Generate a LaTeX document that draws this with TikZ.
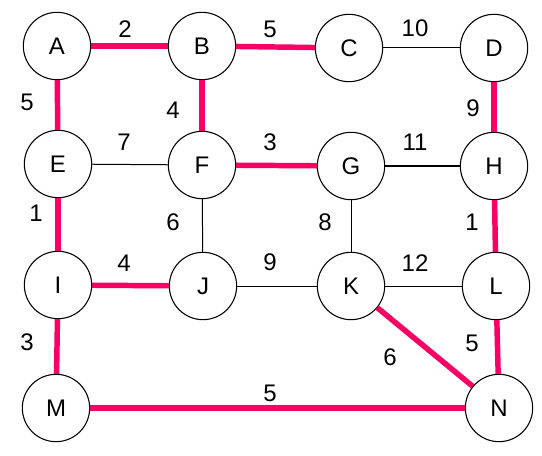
\documentclass[tikz,border=0pt]{standalone}
\usepackage{fontspec}
\setmainfont{Liberation Sans}
\definecolor{mstred}{RGB}{250,0,100}
\begin{document}
\begin{tikzpicture}[x=0.75pt,y=-0.75pt,
  vtx/.style={circle,draw=black,line width=0.8pt,minimum size=50.5pt,inner sep=0pt,font=\fontsize{18}{20}\selectfont},
  wlab/.style={font=\fontsize{18}{20}\selectfont},
  plain/.style={draw=black,line width=0.75pt},
  mst/.style={draw=mstred,line width=4.1pt}]
\useasboundingbox (0,0) rectangle (542,456);
\node[vtx] (A) at (57,46) {A};
\node[vtx] (B) at (202,46) {B};
\node[vtx] (C) at (349,48) {C};
\node[vtx] (D) at (494,48) {D};
\node[vtx] (E) at (58,164) {E};
\node[vtx] (F) at (202,165) {F};
\node[vtx] (G) at (351,166) {G};
\node[vtx] (H) at (494,166) {H};
\node[vtx] (I) at (58,285) {I};
\node[vtx] (J) at (203,286) {J};
\node[vtx] (K) at (351,286) {K};
\node[vtx] (L) at (496,286) {L};
\node[vtx] (M) at (56,408) {M};
\node[vtx] (N) at (499,408) {N};
% black underlay lines
\foreach \u/\v in {A/B,B/C,C/D,A/E,B/F,D/H,E/F,F/G,G/H,E/I,F/J,G/K,H/L,I/J,J/K,K/L,I/M,L/N,K/N,M/N}
  \draw[plain] (\u) -- (\v);
% MST edges
\foreach \u/\v in {A/B,B/C,A/E,B/F,D/H,F/G,E/I,H/L,I/J,I/M,L/N,K/N,M/N}
  \draw[mst] (\u) -- (\v);
% weights
\node[wlab] (w1) at (125,29) {2};
\node[wlab] (w2) at (270,29) {5};
\node[wlab] (w3) at (415,28) {10};
\node[wlab] (w4) at (27,102) {5};
\node[wlab] (w5) at (173,110) {4};
\node[wlab] (w6) at (473,108) {9};
\node[wlab] (w7) at (124,142) {7};
\node[wlab] (w8) at (270,142) {3};
\node[wlab] (w9) at (415,142) {11};
\node[wlab] (w10) at (36,213) {1};
\node[wlab] (w11) at (173,222) {6};
\node[wlab] (w12) at (325,222) {8};
\node[wlab] (w13) at (472,222) {1};
\node[wlab] (w14) at (124,263) {4};
\node[wlab] (w15) at (270,262) {9};
\node[wlab] (w16) at (415,263) {12};
\node[wlab] (w17) at (27,342) {3};
\node[wlab] (w18) at (390,357) {6};
\node[wlab] (w19) at (472,343) {5};
\node[wlab] (w20) at (270,393) {5};
\end{tikzpicture}
\end{document}
